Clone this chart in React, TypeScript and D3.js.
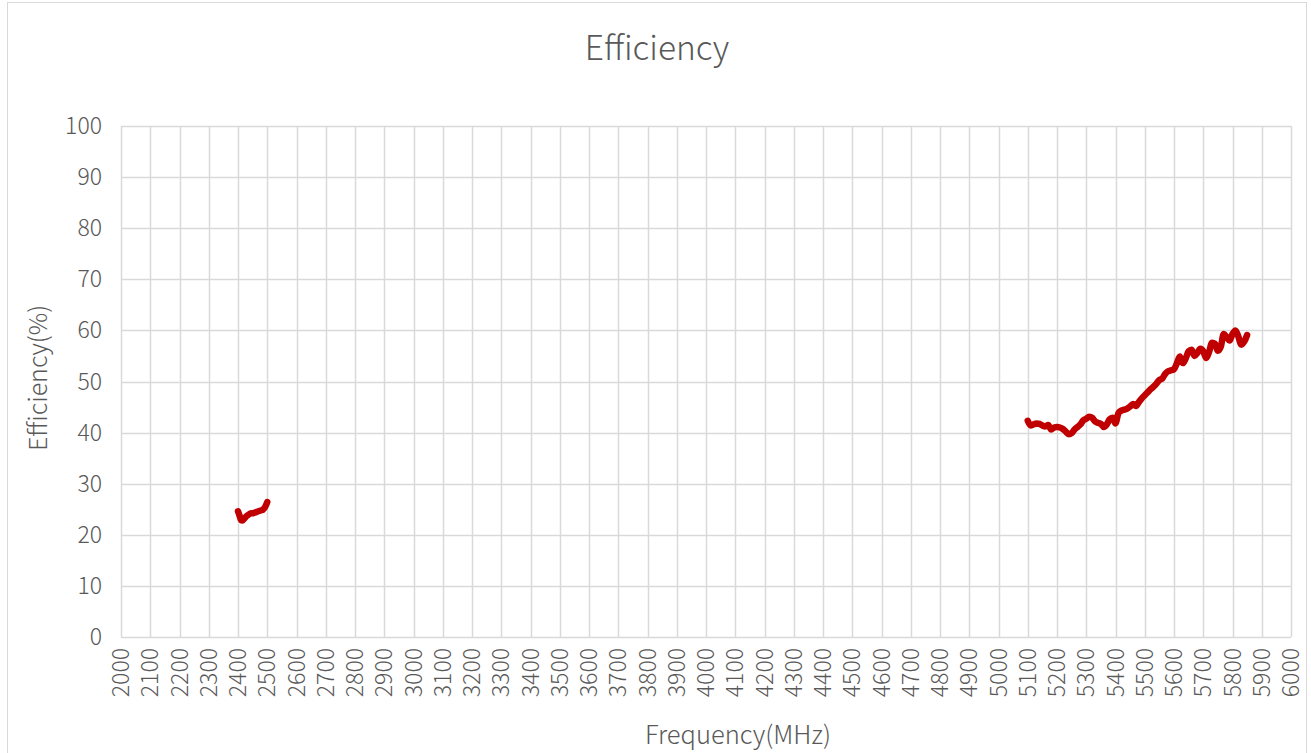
import React from "react";
import * as d3 from "d3";

const freqs24: number[] = [2400, 2405, 2410, 2415, 2420, 2425, 2430, 2435, 2440, 2445, 2450, 2455, 2460, 2465, 2470, 2475, 2480, 2485, 2490, 2495, 2500];
const eff24: number[] = [24.6, 23.8, 22.9, 22.8, 23.1, 23.4, 23.7, 23.9, 24.1, 24.2, 24.2, 24.3, 24.4, 24.5, 24.6, 24.7, 24.8, 24.9, 25.2, 25.7, 26.4];

const freqs5: number[] = [
  5100, 5110, 5120, 5130, 5140, 5150, 5160, 5170, 5180, 5190,
  5200, 5210, 5220, 5230, 5240, 5250, 5260, 5270, 5280, 5290,
  5300, 5310, 5320, 5330, 5340, 5350, 5360, 5370, 5380, 5390,
  5400, 5410, 5420, 5430, 5440, 5450, 5460, 5470, 5480, 5490,
  5500, 5510, 5520, 5530, 5540, 5550, 5560, 5570, 5580, 5590,
  5600, 5610, 5620, 5630, 5640, 5650, 5660, 5670, 5680, 5690,
  5700, 5710, 5720, 5730, 5740, 5750, 5760, 5770, 5780, 5790,
  5800, 5810, 5820, 5830, 5840, 5850,
];
const eff5: number[] = [
  42.3, 41.4, 41.6, 41.8, 41.7, 41.4, 41.2, 41.5, 40.6, 41.0,
  41.1, 41.0, 40.7, 40.2, 39.7, 39.9, 40.6, 41.1, 41.6, 42.4,
  42.7, 43.1, 42.9, 42.2, 41.9, 41.7, 41.1, 41.6, 42.6, 42.9,
  41.8, 43.8, 44.3, 44.5, 44.7, 45.1, 45.6, 45.2, 46.0, 46.7,
  47.3, 47.9, 48.5, 49.0, 49.6, 50.3, 50.6, 51.5, 52.0, 52.2,
  52.4, 53.6, 54.9, 53.6, 54.5, 55.9, 56.2, 55.0, 55.6, 56.4,
  55.9, 54.6, 55.8, 57.6, 57.4, 56.0, 56.8, 59.3, 58.7, 58.0,
  59.3, 60.0, 58.8, 57.2, 57.8, 59.1,
];

const xTicks: number[] = d3.range(2000, 6001, 100);
const yTicks: number[] = d3.range(0, 101, 10);

const title = "Efficiency";
const xTitle = "Frequency(MHz)";
const yTitle = "Efficiency(%)";

const W = 1311;
const H = 753;
const FONT = "'Noto Sans CJK SC', 'Noto Sans', sans-serif";

export default function App() {
  const x = d3.scaleLinear().domain([2000, 6000]).range([121, 1291]);
  const y = d3.scaleLinear().domain([0, 100]).range([637, 126]);
  const line = d3
    .line<[number, number]>()
    .x((d) => x(d[0]))
    .y((d) => y(d[1]))
    .curve(d3.curveMonotoneX);
  const s24 = freqs24.map((f, i) => [f, eff24[i]] as [number, number]);
  const s5 = freqs5.map((f, i) => [f, eff5[i]] as [number, number]);
  const grid = "#D9D9D9";
  const txt = "#595959";
  return (
    <svg
      width={W}
      height={H}
      style={{ position: "absolute", left: 0, top: 0, background: "#fff" }}
      fontFamily={FONT}
      fontWeight={300}
    >
      <rect x={7.5} y={2.5} width={1299} height={770} fill="#fff" stroke={grid} strokeWidth={1} />
      {yTicks.map((t) => (
        <line key={"gy" + t} x1={x(2000)} x2={x(6000)} y1={Math.round(y(t)) + 0.5} y2={Math.round(y(t)) + 0.5} stroke={grid} strokeWidth={1.5} />
      ))}
      {xTicks.map((t) => (
        <line key={"gx" + t} x1={Math.round(x(t)) + 0.5} x2={Math.round(x(t)) + 0.5} y1={y(100)} y2={y(0)} stroke={grid} strokeWidth={1.5} />
      ))}
      {yTicks.map((t) => (
        <text key={"ty" + t} x={102} y={y(t)} dy="0.35em" textAnchor="end" fontSize={23} fill={txt}>
          {t}
        </text>
      ))}
      {xTicks.map((t) => (
        <text
          key={"tx" + t}
          transform={`translate(${x(t)},648) rotate(-90)`}
          dy="0.35em"
          textAnchor="end"
          fontSize={23}
          fill={txt}
        >
          {t}
        </text>
      ))}
      <path d={line(s24) || ""} fill="none" stroke="#C00000" strokeWidth={6.5} strokeLinecap="round" strokeLinejoin="round" />
      <path d={line(s5) || ""} fill="none" stroke="#C00000" strokeWidth={6.5} strokeLinecap="round" strokeLinejoin="round" />
      <text x={657} y={60} textAnchor="middle" fontSize={33.5} fill={txt}>
        {title}
      </text>
      <text x={738} y={744} textAnchor="middle" fontSize={25.5} fill={txt}>
        {xTitle}
      </text>
      <text transform={`translate(47,378) rotate(-90)`} textAnchor="middle" fontSize={25} fill={txt}>
        {yTitle}
      </text>
    </svg>
  );
}
